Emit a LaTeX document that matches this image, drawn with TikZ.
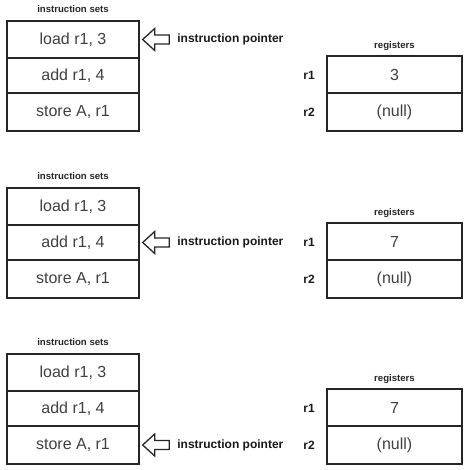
\documentclass[tikz,border=0pt]{standalone}
\usepackage{fontspec}
\setmainfont{Liberation Sans}
\usetikzlibrary{calc}
\tikzset{
  cellbox/.style={draw=black!85, line width=2.4pt, minimum width=132pt, inner sep=0pt,
    font=\fontsize{16}{18}\selectfont, text=black!75},
  regbox/.style={draw=black!85, line width=2.4pt, minimum width=135pt, inner sep=0pt,
    font=\fontsize{16}{18}\selectfont, text=black!75},
  titletext/.style={font=\bfseries\fontsize{9.6}{11}\selectfont, text=black!85, inner sep=0pt},
  labeltext/.style={font=\bfseries\fontsize{12}{14}\selectfont, text=black!90, inner sep=0pt},
  ptr/.style={draw=black!85, line width=1.3pt, fill=white, line join=miter}
}
\begin{document}
\begin{tikzpicture}[x=1pt,y=-1pt]
\useasboundingbox (0,0) rectangle (468,470);
\foreach \p/\T/\rv/\ip in {1/21/3/1, 2/188/7/2, 3/354/7/3}{
  % instruction set column
  \node[titletext] (ist\p) at (73,\T-12) {instruction sets};
  \node[cellbox, minimum height=37pt] (c1\p) at (73,\T+18.5) {load r1, 3};
  \node[cellbox, minimum height=35pt] (c2\p) at (73,\T+54.5) {add r1, 4};
  \node[cellbox, minimum height=38pt] (c3\p) at (73,\T+91) {store A, r1};
  % registers
  \node[titletext] (rt\p) at (394.5,\T+25) {registers};
  \node[regbox, minimum height=37pt] (rv1\p) at (394.5,\T+53.5) {\rv};
  \node[regbox, minimum height=38pt] (rv2\p) at (394.5,\T+91) {(null)};
  \node[labeltext] (rl1\p) at (309,\T+54) {r1};
  \node[labeltext] (rl2\p) at (309,\T+91) {r2};
  % instruction pointer
  \node[labeltext, anchor=west] (ipl\p) at ($(c\ip\p.east)+(37,0)$) {instruction pointer};
  \coordinate (tip\p) at ($(c\ip\p.east)+(2.5,0)$);
  \draw[ptr] (tip\p) -- ++(12,-11) -- ++(0,6.5) -- ++(14.5,0) -- ++(0,9) -- ++(-14.5,0) -- ++(0,6.5) -- cycle;
}
\end{tikzpicture}
\end{document}
